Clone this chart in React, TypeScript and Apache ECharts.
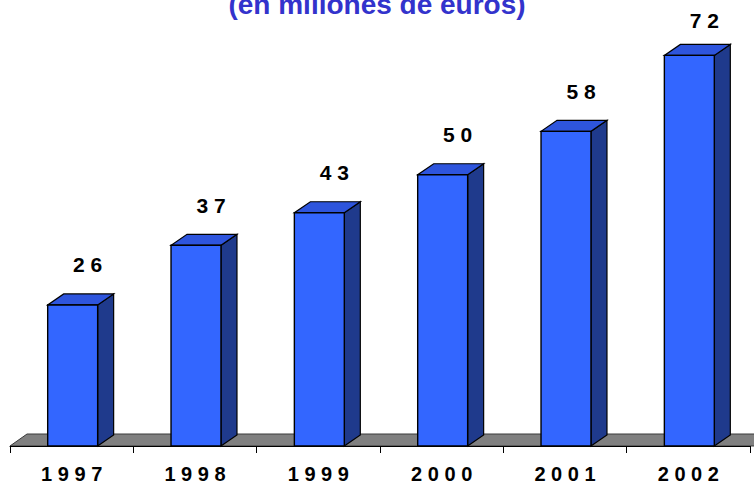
import React, { useEffect, useRef } from "react";
import * as echarts from "echarts";

const years = ["1997", "1998", "1999", "2000", "2001", "2002"];
const values = [26, 37, 43, 50, 58, 72];
const titleText = "(en millones de euros)";

const FONT = "Arial, 'Liberation Sans', sans-serif";
const spaced = (s: string) => s.split("").join(" ");

export default function App() {
  const ref = useRef<HTMLDivElement>(null);
  useEffect(() => {
    if (!ref.current) return;
    const chart = echarts.init(ref.current, null, { renderer: "svg" });
    const DX = 16;
    const DY = 11;
    chart.setOption({
      animation: false,
      backgroundColor: "#ffffff",
      title: {
        text: titleText,
        left: "center",
        top: -10,
        padding: 0,
        textStyle: { fontSize: 28, fontWeight: "bold", color: "#3333CC", fontFamily: FONT },
      },
      grid: { left: 10, right: 4, top: 12, bottom: 38, containLabel: false },
      xAxis: {
        type: "category",
        data: years,
        z: 5,
        axisLine: { show: true, lineStyle: { color: "#000", width: 1 } },
        axisTick: { show: true, length: 7, lineStyle: { color: "#000", width: 1 } },
        axisLabel: {
          formatter: (v: string) => spaced(v),
          fontSize: 20,
          fontWeight: "bold",
          color: "#000",
          fontFamily: FONT,
          margin: 18,
        },
        splitLine: { show: false },
      },
      yAxis: { type: "value", min: 0, max: 80, show: false },
      series: [
        {
          type: "custom",
          data: values.map((v, i) => [i, v]),
          renderItem: (params: any, api: any) => {
            const cat = api.value(0);
            const val = api.value(1);
            const base = api.coord([cat, 0]);
            const top = api.coord([cat, val]);
            const band = api.size([1, 0])[0];
            const w = band * 0.405;
            const x0 = base[0] - w / 2 + 1;
            const x1 = x0 + w;
            const yb = base[1];
            const yt = top[1];
            const children: any[] = [];
            if (params.dataIndex === 0) {
              const cs = params.coordSys;
              const right = cs.x + cs.width + 40;
              children.push({
                type: "polygon",
                shape: {
                  points: [
                    [cs.x, yb],
                    [right, yb],
                    [right + DX, yb - DY - 1],
                    [cs.x + DX + 1, yb - DY - 1],
                  ],
                },
                style: { fill: "#808080", stroke: "#3a3a3a", lineWidth: 1 },
              });
            }
            children.push({
              type: "polygon",
              shape: { points: [[x1, yb], [x1 + DX, yb - DY], [x1 + DX, yt - DY], [x1, yt]] },
              style: { fill: "#1F3A8C", stroke: "#000", lineWidth: 1.2 },
            });
            children.push({
              type: "polygon",
              shape: { points: [[x0, yt], [x1, yt], [x1 + DX, yt - DY], [x0 + DX, yt - DY]] },
              style: { fill: "#2E55DD", stroke: "#000", lineWidth: 1.2 },
            });
            children.push({
              type: "rect",
              shape: { x: x0, y: yt, width: w, height: yb - yt },
              style: { fill: "#3366FF", stroke: "#000", lineWidth: 1.4 },
            });
            children.push({
              type: "text",
              x: (x0 + x1) / 2 + 15,
              y: Math.max(yt - 40, 20),
              style: {
                text: spaced(String(val)),
                align: "center",
                verticalAlign: "middle",
                fontSize: 21,
                fontWeight: "bold",
                fontFamily: FONT,
                fill: "#000",
              },
            });
            return { type: "group", children };
          },
        },
      ],
    });
    return () => chart.dispose();
  }, []);
  return (
    <div
      ref={ref}
      style={{ position: "absolute", left: 0, top: 0, width: 754, height: 484 }}
    />
  );
}
